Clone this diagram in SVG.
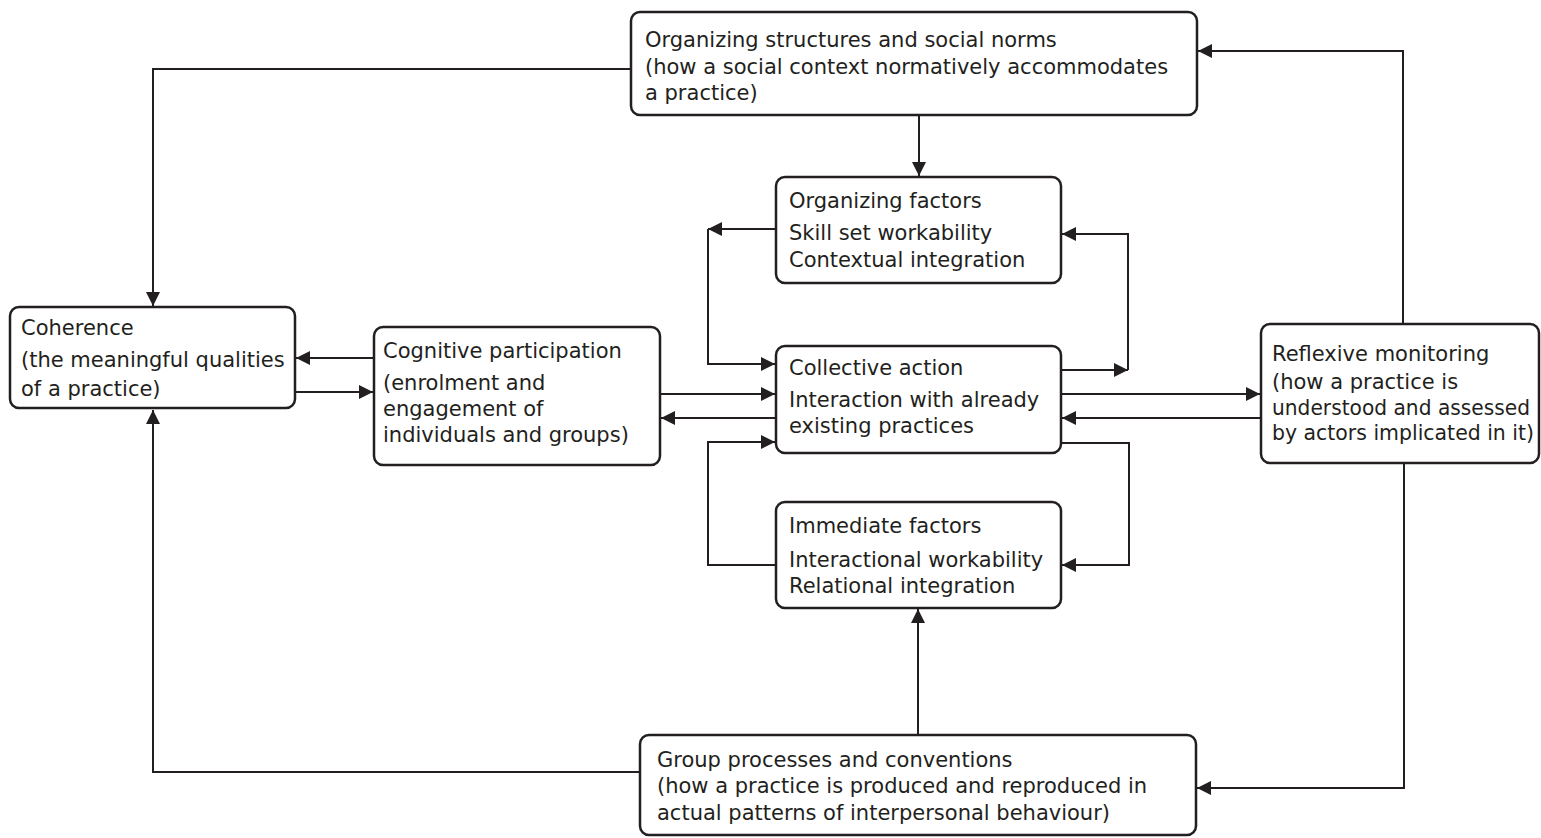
<svg xmlns="http://www.w3.org/2000/svg" width="1541" height="838" viewBox="0 0 1541 838">
<style>
.box{fill:#fff;stroke:#231f20;stroke-width:2.5}
.t{font-family:"DejaVu Sans",sans-serif;font-size:21px;fill:#231f20}
.c{fill:none;stroke:#231f20;stroke-width:2}
</style>
<defs>
<marker id="ah" viewBox="0 0 14 14" refX="14" refY="7" markerWidth="14" markerHeight="14" markerUnits="userSpaceOnUse" orient="auto">
<path d="M0,0 L14,7 L0,14 z" fill="#231f20"/>
</marker>
</defs>
<rect width="1541" height="838" fill="#fff"/>
<g id="connectors">
<path class="c" d="M631,69 H153 V306" marker-end="url(#ah)"/>
<path class="c" d="M1403,324 V51 H1198" marker-end="url(#ah)"/>
<path class="c" d="M919,115 V176" marker-end="url(#ah)"/>
<path class="c" d="M776,229 H708" marker-end="url(#ah)"/>
<path class="c" d="M708,229 V364 H775" marker-end="url(#ah)"/>
<path class="c" d="M1061,370 H1128" marker-end="url(#ah)"/>
<path class="c" d="M1128,370 V234 H1062" marker-end="url(#ah)"/>
<path class="c" d="M660,394 H775" marker-end="url(#ah)"/>
<path class="c" d="M776,418 H661" marker-end="url(#ah)"/>
<path class="c" d="M295,392 H373" marker-end="url(#ah)"/>
<path class="c" d="M374,358 H296" marker-end="url(#ah)"/>
<path class="c" d="M1061,394 H1260" marker-end="url(#ah)"/>
<path class="c" d="M1261,418 H1062" marker-end="url(#ah)"/>
<path class="c" d="M776,565 H708 V442 H775" marker-end="url(#ah)"/>
<path class="c" d="M1061,443 H1129 V565 H1062" marker-end="url(#ah)"/>
<path class="c" d="M918,735 V609" marker-end="url(#ah)"/>
<path class="c" d="M640,772 H153 V410" marker-end="url(#ah)"/>
<path class="c" d="M1404,463 V788 H1197" marker-end="url(#ah)"/>
</g>
<g id="organizing-structures">
<rect class="box" x="631" y="12" width="566" height="103" rx="9"/>
<text class="t" x="645" y="47">Organizing structures and social norms</text>
<text class="t" x="645" y="74">(how a social context normatively accommodates</text>
<text class="t" x="645" y="100">a practice)</text>
</g>
<g id="organizing-factors">
<rect class="box" x="776" y="177" width="285" height="106" rx="9"/>
<text class="t" x="789" y="208">Organizing factors</text>
<text class="t" x="789" y="240">Skill set workability</text>
<text class="t" x="789" y="267">Contextual integration</text>
</g>
<g id="coherence">
<rect class="box" x="10" y="307" width="285" height="101" rx="9"/>
<text class="t" x="21" y="335">Coherence</text>
<text class="t" x="21" y="367">(the meaningful qualities</text>
<text class="t" x="21" y="396">of a practice)</text>
</g>
<g id="cognitive-participation">
<rect class="box" x="374" y="327" width="286" height="138" rx="9"/>
<text class="t" x="383" y="358">Cognitive participation</text>
<text class="t" x="383" y="390">(enrolment and</text>
<text class="t" x="383" y="416">engagement of</text>
<text class="t" x="383" y="442">individuals and groups)</text>
</g>
<g id="collective-action">
<rect class="box" x="776" y="346" width="285" height="107" rx="9"/>
<text class="t" x="789" y="375">Collective action</text>
<text class="t" x="789" y="407">Interaction with already</text>
<text class="t" x="789" y="433">existing practices</text>
</g>
<g id="reflexive-monitoring">
<rect class="box" x="1261" y="324" width="278" height="139" rx="9"/>
<text class="t" x="1272" y="361">Reflexive monitoring</text>
<text class="t" x="1272" y="389">(how a practice is</text>
<text class="t" x="1272" y="415" textLength="258" lengthAdjust="spacingAndGlyphs">understood and assessed</text>
<text class="t" x="1272" y="440" textLength="262" lengthAdjust="spacingAndGlyphs">by actors implicated in it)</text>
</g>
<g id="immediate-factors">
<rect class="box" x="776" y="502" width="285" height="106" rx="9"/>
<text class="t" x="789" y="533">Immediate factors</text>
<text class="t" x="789" y="567">Interactional workability</text>
<text class="t" x="789" y="593">Relational integration</text>
</g>
<g id="group-processes">
<rect class="box" x="640" y="735" width="556" height="100" rx="9"/>
<text class="t" x="657" y="767">Group processes and conventions</text>
<text class="t" x="657" y="793">(how a practice is produced and reproduced in</text>
<text class="t" x="657" y="820">actual patterns of interpersonal behaviour)</text>
</g>
</svg>
